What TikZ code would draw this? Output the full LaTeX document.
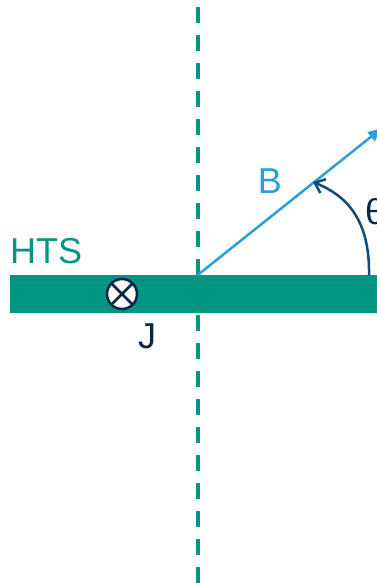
\documentclass[tikz,border=0pt]{standalone}
\usepackage{fontspec}
\setmainfont{Liberation Sans}
\usetikzlibrary{arrows.meta}
\definecolor{kitgreen}{HTML}{009682}
\definecolor{bblue}{HTML}{2A9FDB}
\definecolor{navy}{HTML}{0B2545}
\definecolor{arcblue}{HTML}{0F4C75}
\tikzset{
  lbl/.style={inner sep=0pt, font=\fontsize{36}{40}\selectfont},
  axisline/.style={kitgreen, line width=4pt, dash pattern=on 16pt off 12pt},
}
\begin{document}
\begin{tikzpicture}[x=1pt,y=-1pt]
\useasboundingbox (0,0) rectangle (377,583);
\clip (0,0) rectangle (377,583);
% vertical dashed axis
\coordinate (top) at (197.7,7);
\coordinate (bot) at (197.7,600);
\draw[axisline] (top) -- (bot);
% HTS bar
\fill[kitgreen] (9.5,275) rectangle (390,313);
\coordinate (o) at (197.7,275);
% B arrow
\coordinate (btip) at (382,128);
\draw[bblue, line width=2.5pt, -{Triangle[length=14pt,width=11pt]}] (o) -- (btip);
% theta arc
\coordinate (as) at (369,275);
\coordinate (ae) at (313,182);
\draw[arcblue, line width=2.5pt, -{Straight Barb[length=9pt,width=15pt,line width=2.5pt]}]
  (as) .. controls (370,218) and (345,195) .. (ae);
% current symbol
\node[circle, draw=navy, fill=white, line width=2.5pt, minimum size=30pt, inner sep=0pt] (jc) at (122,294) {};
\draw[navy, line width=2.5pt] (jc.north west) -- (jc.south east) (jc.north east) -- (jc.south west);
% labels
\node[lbl, kitgreen, anchor=base west] (hts) at (10,263) {HTS};
\node[lbl, navy, anchor=base] (j) at (147,348) {J};
\node[lbl, bblue, anchor=base] (b) at (270,193) {B};
\node[lbl, navy, anchor=base west] (th) at (365,224) {θ};
\end{tikzpicture}
\end{document}
